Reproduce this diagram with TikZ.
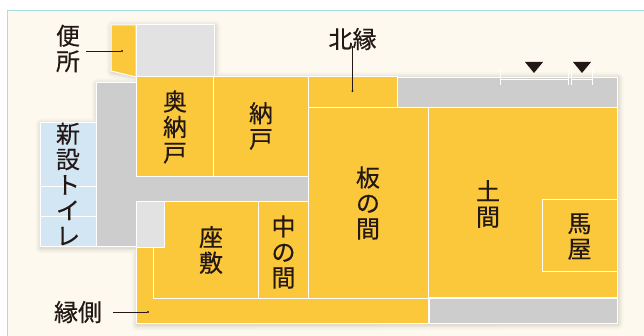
\documentclass[tikz,border=0pt]{standalone}
\usepackage{fontspec}
\setmainfont[FakeBold=0.35]{Noto Sans CJK JP}
\definecolor{cream}{HTML}{FEF9EE}
\definecolor{edge}{HTML}{A9DDDD}
\definecolor{roomy}{HTML}{FBC83C}
\definecolor{roomg}{HTML}{CDCDCD}
\definecolor{rooml}{HTML}{E2E2E2}
\definecolor{roomb}{HTML}{D3E6F3}
\definecolor{ink}{HTML}{231815}
\tikzset{
  wall/.style={draw=white,line width=1pt,line join=miter},
  yroom/.style={wall,fill=roomy},
  groom/.style={wall,fill=roomg},
  lroom/.style={wall,fill=rooml},
  broom/.style={wall,fill=roomb},
  lbl/.style={text=ink,align=center,inner sep=0pt,font=\fontsize{24}{25.5}\selectfont},
  leader/.style={draw=ink,line width=0.7pt},
  enddot/.style={fill=ink,circle,inner sep=0pt,minimum size=2.4pt},
  tick/.style={draw=white,line width=1pt},
  mark tri/.style={fill=ink},
  shade/.style={draw=black,line join=round}
}
\begin{document}
\begin{tikzpicture}[x=1pt,y=-1pt]
\useasboundingbox (0,0) rectangle (644,336);
\fill[white] (0,0) rectangle (644,336);
\fill[cream] (7.5,10) rectangle (644,336);
\draw[edge,line width=0.8pt] (7.5,336) -- (7.5,10) -- (644,10);
% soft shadow
\foreach \w/\o in {11/0.02,8/0.025,5/0.03,2.5/0.04}{
  \draw[shade,line width=\w pt,opacity=\o] (112,26) -- (215,26) -- (215,78) -- (618,78) -- (618,324) -- (137,325) -- (137,248) -- (41,248) -- (41,124) -- (97,124) -- (97,84) -- (137,84) -- (137,77) -- (112,72) -- cycle;
}
% grey corridor
\draw[groom] (96,83) -- (136,83) -- (136,177) -- (308,177) -- (308,202) -- (136,202) -- (136,247) -- (96,247) -- cycle;
% new toilet
\draw[broom] (40,123) rectangle (96,187);
\draw[broom] (40,187) rectangle (96,217);
\draw[broom] (40,217) rectangle (96,247);
% north wing
\draw[yroom] (111,25) -- (136,25) -- (136,77) -- (111,71) -- cycle;
\draw[lroom] (136,25) rectangle (214,77);
\draw[yroom] (136,77) rectangle (213.5,177);
\draw[yroom] (213.5,77) rectangle (308,177);
\draw[yroom] (308,77) rectangle (397,107.5);
\draw[groom] (397,77.5) rectangle (617,107.5);
% main rooms
\draw[yroom] (136,247) -- (153.5,247) -- (153.5,298) -- (428.5,298) -- (428.5,323.5) -- (136,323.5) -- cycle;
\draw[yroom] (153.5,202) rectangle (258,298);
\draw[lroom] (136,202) rectangle (164,248);
\draw[yroom] (258,202) rectangle (308,298);
\draw[yroom] (308,107.5) rectangle (428.5,298);
\draw[yroom] (428.5,107.5) rectangle (617,297.5);
\draw[yroom] (542,200) rectangle (617,271);
\draw[groom] (429,298) rectangle (617,323);
% width marks
\draw[tick] (500,69) -- (500,85) (568,69) -- (568,85) (571,69) -- (571,85) (592,69) -- (592,85);
\draw[tick] (500,80) -- (568,80) (571,80) -- (592,80);
\fill[mark tri] (525,62) -- (543,62) -- (534,73) -- cycle;
\fill[mark tri] (573,62) -- (591,62) -- (582,73) -- cycle;
% labels
\node[lbl] (benjo) at (68,48.5) {便\\所};
\node[lbl] (okunando) at (175,127) {奥\\納\\戸};
\node[lbl] (nando) at (261,126) {納\\戸};
\node[lbl] (kitaen) at (352.5,39) {北縁};
\node[lbl] (toilet) at (68,184) {新\\設\\ト\\イ\\レ};
\node[lbl] (itanoma) at (368,203) {板\\の\\間};
\node[lbl] (doma) at (488,204) {土\\間};
\node[lbl] (umaya) at (579.5,236.5) {馬\\屋};
\node[lbl] (zashiki) at (211,250) {座\\敷};
\node[lbl] (nakanoma) at (283.5,252) {中\\の\\間};
\node[lbl] (engawa) at (78,312) {縁側};
% leaders
\node[enddot] (dotb) at (122,51) {};
\node[enddot] (dotk) at (352.5,91) {};
\node[enddot] (dote) at (148,312) {};
\draw[leader] ([xshift=6pt]benjo.east |- dotb) -- (dotb);
\draw[leader] ([yshift=4pt]kitaen.south -| dotk) -- (dotk);
\draw[leader] ([xshift=11pt]engawa.east |- dote) -- (dote);
\end{tikzpicture}
\end{document}
